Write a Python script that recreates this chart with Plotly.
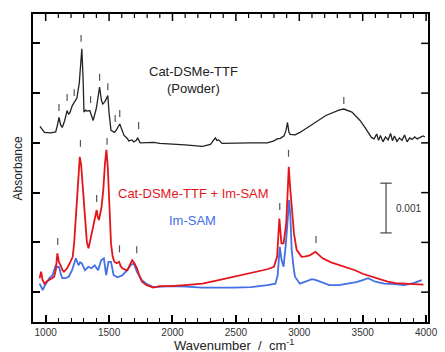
import plotly.graph_objects as go

# ---------------- data ----------------
powder_wn = [955, 975, 990, 1040, 1079, 1095, 1105, 1118, 1131, 1150, 1169, 1180, 1190, 1210, 1225,
             1246, 1265, 1285, 1295, 1302, 1315, 1325, 1348, 1374, 1400, 1425, 1440, 1451, 1467, 1490,
             1500, 1515, 1543, 1558, 1584, 1600, 1618, 1640, 1656, 1680, 1694, 1715, 1725, 1745, 1800,
             1851, 1900, 1979, 2100, 2236, 2300, 2320, 2338, 2350, 2364, 2390, 2492, 2620, 2748, 2800,
             2825, 2851, 2880, 2895, 2907, 2918, 2928, 2967, 3005, 3107, 3210, 3312, 3351, 3415, 3479,
             3520, 3543, 3569, 3590, 3610, 3625, 3640, 3660, 3680, 3700, 3720, 3735, 3750, 3770, 3790,
             3810, 3830, 3850, 3870, 3890, 3910, 3930, 3950, 3975, 3990]
powder_abs = [3.33, 3.25, 3.21, 3.20, 3.22, 3.38, 3.51, 3.36, 3.31, 3.45, 3.65, 3.58, 3.60, 3.75, 3.82,
              3.90, 4.20, 4.89, 4.30, 3.62, 3.66, 3.64, 3.65, 3.45, 3.70, 4.12, 3.85, 3.78, 3.83, 3.95,
              3.60, 3.25, 3.21, 3.26, 3.38, 3.25, 3.15, 3.10, 3.04, 3.06, 3.02, 3.05, 3.10, 3.00, 3.01,
              3.01, 2.99, 2.98, 2.96, 2.93, 2.97, 3.04, 3.10, 3.05, 3.06, 2.99, 3.00, 3.00, 3.00, 3.04,
              3.08, 3.09, 3.14, 3.25, 3.41, 3.22, 3.17, 3.16, 3.21, 3.38, 3.55, 3.66, 3.68, 3.62, 3.45,
              3.30, 3.21, 3.11, 3.08, 3.18, 3.05, 3.15, 3.02, 3.12, 3.06, 3.19, 3.04, 3.14, 3.03, 3.10,
              3.05, 3.16, 3.02, 3.10, 3.07, 3.12, 3.08, 3.11, 3.14, 3.12]

mix_wn = [952, 964, 975, 990, 1010, 1028, 1050, 1067, 1080, 1092, 1105, 1118, 1131, 1144, 1169,
          1195, 1213, 1225, 1233, 1245, 1258, 1269, 1280, 1290, 1300, 1315, 1325, 1338, 1364, 1390,
          1402, 1412, 1420, 1440, 1454, 1468, 1479, 1490, 1497, 1505, 1515, 1528, 1541, 1560, 1579,
          1592, 1605, 1625, 1644, 1665, 1682, 1700, 1720, 1740, 1759, 1797, 1848, 1900, 1979, 2100,
          2236, 2364, 2492, 2620, 2723, 2748, 2800, 2825, 2843, 2852, 2859, 2876, 2897, 2908, 2917,
          2928, 2940, 2958, 2979, 3018, 3050, 3082, 3128, 3160, 3184, 3250, 3312, 3380, 3440, 3500,
          3569, 3630, 3697, 3760, 3825, 3900, 3979]
mix_abs = [0.28, 0.41, 0.25, 0.17, 0.22, 0.24, 0.28, 0.31, 0.45, 0.78, 0.60, 0.54, 0.45, 0.41, 0.48,
           0.61, 0.71, 1.00, 1.31, 1.90, 2.50, 2.72, 2.55, 2.20, 1.92, 1.30, 1.00, 0.88, 1.18, 1.45,
           1.65, 1.50, 1.45, 1.70, 2.05, 2.60, 2.86, 2.50, 2.19, 1.60, 0.98, 0.72, 0.61, 0.58, 0.61,
           0.52, 0.48, 0.45, 0.44, 0.55, 0.64, 0.58, 0.48, 0.32, 0.21, 0.14, 0.09, 0.12, 0.12, 0.14,
           0.17, 0.24, 0.31, 0.39, 0.44, 0.46, 0.51, 0.71, 1.48, 1.10, 0.98, 0.98, 1.38, 2.00, 2.52,
           2.10, 1.72, 1.18, 0.85, 0.71, 0.72, 0.74, 0.81, 0.74, 0.68, 0.60, 0.55, 0.48, 0.44, 0.37,
           0.31, 0.26, 0.21, 0.18, 0.17, 0.16, 0.15]

sam_wn = [952, 965, 977, 990, 1003, 1028, 1054, 1079, 1092, 1105, 1118, 1131, 1156, 1182, 1208,
          1225, 1238, 1259, 1272, 1285, 1298, 1310, 1336, 1361, 1387, 1400, 1413, 1438, 1459, 1477,
          1495, 1515, 1525, 1536, 1567, 1605, 1644, 1669, 1694, 1720, 1759, 1797, 1848, 1900, 2000,
          2107, 2236, 2492, 2620, 2748, 2812, 2830, 2846, 2860, 2876, 2895, 2910, 2920, 2930, 2940,
          2955, 2966, 3005, 3056, 3100, 3133, 3180, 3236, 3312, 3389, 3450, 3500, 3543, 3600, 3671,
          3750, 3825, 3900, 3966]
sam_abs = [0.17, 0.10, 0.04, 0.12, 0.17, 0.28, 0.34, 0.54, 0.50, 0.51, 0.38, 0.28, 0.28, 0.31, 0.44,
           0.60, 0.68, 0.54, 0.60, 0.58, 0.50, 0.44, 0.51, 0.48, 0.54, 0.50, 0.44, 0.64, 0.68, 0.34,
           0.61, 0.61, 0.45, 0.34, 0.30, 0.34, 0.44, 0.54, 0.58, 0.41, 0.24, 0.16, 0.10, 0.11, 0.12,
           0.11, 0.09, 0.09, 0.10, 0.14, 0.17, 0.35, 0.91, 0.65, 0.51, 1.00, 1.60, 1.85, 1.50, 0.85,
           0.50, 0.31, 0.17, 0.21, 0.26, 0.24, 0.20, 0.14, 0.14, 0.17, 0.20, 0.24, 0.28, 0.21, 0.17,
           0.16, 0.14, 0.18, 0.24]

# peak markers: wavenumber and absorbance at the lower end of each mark
mark_wn = [1105, 1169, 1225, 1279, 1354, 1425, 1490, 1548, 1584, 1733, 3351,
           1274, 1484, 1402, 1095, 1582, 1718, 2915, 2846, 3132]
mark_abs = [3.64, 3.84, 3.94, 5.03, 3.80, 4.25, 4.06, 3.42, 3.52, 3.28, 3.78,
            2.92, 2.96, 1.81, 0.95, 0.80, 0.78, 2.72, 1.65, 0.99]
MARK_LEN = 0.14

x_ticks = [1000, 1500, 2000, 2500, 3000, 3500, 4000]
x_minor_ticks = list(range(1000, 4001, 100))
y_ticks = [0, 1, 2, 3, 4, 5]

RED = "#e3151b"
BLUE = "#4470e6"
BLACK = "#222222"
FONT = "Liberation Sans, Arial, sans-serif"
X_RANGE = [900, 4015]
Y_RANGE = [-0.6, 5.59]
W, H = 445, 352
M = dict(l=33, r=7, t=14, b=30)
PLOT_W = W - M["l"] - M["r"]
PLOT_H = H - M["t"] - M["b"]

fig = go.Figure()

# peak markers
mx, my = [], []
for w, a in zip(mark_wn, mark_abs):
    mx += [w, w, None]
    my += [a, a + MARK_LEN, None]
fig.add_trace(go.Scatter(x=mx, y=my, mode="lines", line=dict(color="#555555", width=1.2),
                         hoverinfo="skip", showlegend=False))

fig.add_trace(go.Scatter(x=powder_wn, y=powder_abs, mode="lines",
                         line=dict(color=BLACK, width=1.3), name="Cat-DSMe-TTF (Powder)"))
fig.add_trace(go.Scatter(x=sam_wn, y=sam_abs, mode="lines",
                         line=dict(color=BLUE, width=1.8), name="Im-SAM"))
fig.add_trace(go.Scatter(x=mix_wn, y=mix_abs, mode="lines",
                         line=dict(color=RED, width=1.8), name="Cat-DSMe-TTF + Im-SAM"))

# mirrored tick marks on the top and right frame (inside ticks)
for t in x_minor_ticks:
    ln = 7 if t in x_ticks else 4
    fig.add_shape(type="line", xref="x", yref="paper", x0=t, x1=t, y0=1, y1=1 - ln / PLOT_H,
                  line=dict(color="black", width=1.5 if ln == 7 else 1.2))
for t in y_ticks:
    fig.add_shape(type="line", xref="paper", yref="y", x0=1, x1=1 - 7 / PLOT_W, y0=t, y1=t,
                  line=dict(color="black", width=1.5))

# scale bar (0.001)
bar_x, bar_y0, bar_y1, cap = 3684, 1.19, 2.19, 45
for shp in [dict(x0=bar_x, x1=bar_x, y0=bar_y0, y1=bar_y1),
            dict(x0=bar_x - cap, x1=bar_x + cap, y0=bar_y0, y1=bar_y0),
            dict(x0=bar_x - cap, x1=bar_x + cap, y0=bar_y1, y1=bar_y1)]:
    fig.add_shape(type="line", xref="x", yref="y", line=dict(color="#444444", width=1.2), **shp)

ann = [
    dict(x=2169, y=4.43, text="Cat-DSMe-TTF", font=dict(color=BLACK, size=13)),
    dict(x=2169, y=4.10, text="(Powder)", font=dict(color=BLACK, size=13)),
    dict(x=2169, y=1.99, text="Cat-DSMe-TTF + Im-SAM", font=dict(color=RED, size=13)),
    dict(x=2161, y=1.45, text="Im-SAM", font=dict(color=BLUE, size=13)),
    dict(x=3745, y=1.69, text="0.001", xanchor="left", font=dict(color="#333333", size=10)),
]
for a in ann:
    a.setdefault("xanchor", "center")
    fig.add_annotation(xref="x", yref="y", yanchor="middle", showarrow=False, **a)

fig.add_annotation(xref="paper", yref="paper", x=-0.037, y=0.5, text="Absorbance", textangle=-90,
                   showarrow=False, xanchor="center", yanchor="middle",
                   font=dict(family=FONT, size=12, color=BLACK))
fig.add_annotation(xref="paper", yref="paper", x=0.51, y=-0.075,
                   text="Wavenumber  /  cm<sup>-1</sup>",
                   showarrow=False, xanchor="center", yanchor="middle",
                   font=dict(family=FONT, size=13, color=BLACK))

fig.update_layout(
    width=W, height=H,
    margin=M,
    paper_bgcolor="white", plot_bgcolor="white",
    showlegend=False,
    font=dict(family=FONT, color=BLACK),
    xaxis=dict(range=X_RANGE, tickvals=x_ticks, ticktext=[str(t) for t in x_ticks],
               ticks="inside", ticklen=7, tickwidth=1.5, tickcolor="black",
               minor=dict(tickvals=x_minor_ticks, ticks="inside", ticklen=4, tickwidth=1.2,
                          tickcolor="black"),
               showline=True, linewidth=2, linecolor="black", mirror=True,
               showgrid=False, zeroline=False, ticklabeloverflow="allow",
               tickfont=dict(size=10, color="#333333")),
    yaxis=dict(range=Y_RANGE, tickvals=y_ticks,
               ticks="inside", ticklen=7, tickwidth=1.5, tickcolor="black",
               showticklabels=False,
               showline=True, linewidth=2, linecolor="black", mirror=True,
               showgrid=False, zeroline=False),
)

fig.write_html("out.html", config={"displayModeBar": False},
               post_script="document.body.style.margin='0';document.body.style.overflow='hidden';")
